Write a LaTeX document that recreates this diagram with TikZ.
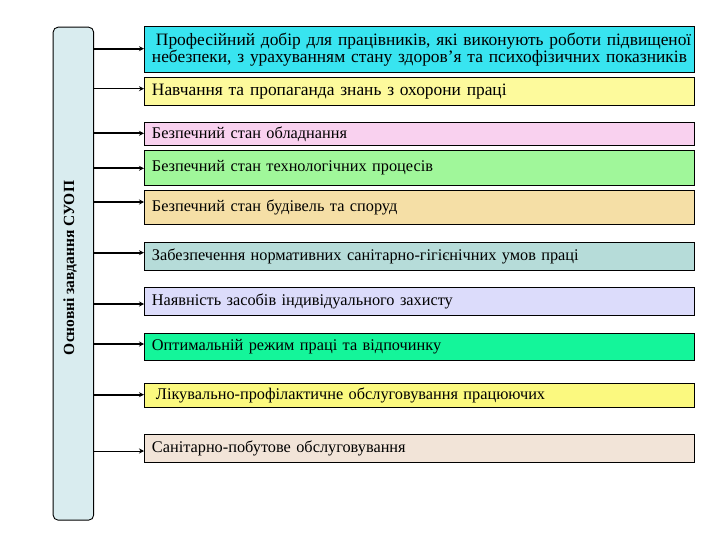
\documentclass[tikz,border=0pt]{standalone}
\usepackage{fontspec}
\setmainfont{Liberation Serif}
\usetikzlibrary{arrows.meta}
\definecolor{cA}{RGB}{56,228,240}
\definecolor{cB}{RGB}{253,250,156}
\definecolor{cC}{RGB}{249,209,239}
\definecolor{cD}{RGB}{160,247,154}
\definecolor{cE}{RGB}{245,223,166}
\definecolor{cF}{RGB}{182,220,217}
\definecolor{cG}{RGB}{220,220,251}
\definecolor{cH}{RGB}{20,245,154}
\definecolor{cI}{RGB}{251,249,127}
\definecolor{cJ}{RGB}{242,228,216}
\definecolor{cL}{RGB}{217,236,239}
\newcommand{\fitline}[1]{\hbox to 535pt{#1\hss}}
\tikzset{
  box/.style={draw=black, line width=0.9pt, anchor=north west, minimum width=550pt,
    text width=535pt, inner xsep=7.5pt, inner ysep=0pt, align=left,
    font=\fontsize{16.3}{14}\selectfont},
  bigbox/.style={box, font=\fontsize{17.4}{14.5}\selectfont},
  arr/.style={line width=1.8pt, -{Stealth[length=5pt,width=5pt]}},
  thinarr/.style={line width=0.9pt, -{Stealth[length=5pt,width=5pt]}},
}
\begin{document}
\begin{tikzpicture}[x=1pt,y=-1pt]
\useasboundingbox (0,0) rectangle (720,540);
\node[draw=black, line width=0.9pt, fill=cL, rounded corners=5pt, minimum width=40.5pt,
  minimum height=493pt, anchor=north west, inner sep=0pt] (L) at (52.7,26.7) {};
\node[rotate=90, font=\fontsize{15.5}{16}\bfseries] (Lt) at (70,268) {Основні завдання СУОП};
\node[bigbox, fill=cA, minimum height=45.7pt] (b1) at (144,26)
  {\fitline{\hspace*{4pt}Професійний добір для працівників, які виконують роботи підвищеної}\\\fitline{небезпеки, з урахуванням стану здоров’я та психофізичних показників}};
\node[bigbox, fill=cB, minimum height=28pt] (b2) at (144,77) {Навчання та пропаганда знань з охорони праці};
\node[box, fill=cC, minimum height=23pt] (b3) at (144,122.3) {Безпечний стан обладнання};
\node[box, fill=cD, minimum height=35pt] (b4) at (144,150) {Безпечний стан технологічних процесів};
\node[box, fill=cE, minimum height=33.7pt] (b5) at (144,190.3) {Безпечний стан будівель та споруд};
\node[box, fill=cF, minimum height=28.3pt] (b6) at (144,241.7) {Забезпечення нормативних санітарно-гігієнічних умов праці};
\node[box, fill=cG, minimum height=28pt] (b7) at (144,287.3) {Наявність засобів індивідуального захисту};
\node[box, fill=cH, minimum height=27.3pt] (b8) at (144,332.7) {Оптимальній режим праці та відпочинку};
\node[box, fill=cI, minimum height=23.4pt] (b9) at (144,383.3) {\hspace*{4pt}Лікувально-профілактичне обслуговування працюючих};
\node[box, fill=cJ, minimum height=28pt] (b10) at (144,434.3) {Санітарно-побутове обслуговування};
\draw[arr] (L.east |- 0,48.7) -- (b1.west |- 0,48.7);
\draw[thinarr] (L.east |- 0,88.7) -- (b2.west |- 0,88.7);
\draw[arr] (L.east |- 0,133.3) -- (b3.west |- 0,133.3);
\draw[arr] (L.east |- 0,168.3) -- (b4.west |- 0,168.3);
\draw[arr] (L.east |- 0,202) -- (b5.west |- 0,202);
\draw[arr] (L.east |- 0,252.7) -- (b6.west |- 0,252.7);
\draw[arr] (L.east |- 0,304) -- (b7.west |- 0,304);
\draw[arr] (L.east |- 0,344) -- (b8.west |- 0,344);
\draw[arr] (L.east |- 0,394.7) -- (b9.west |- 0,394.7);
\draw[thinarr] (L.east |- 0,451) -- (b10.west |- 0,451);
\end{tikzpicture}
\end{document}
